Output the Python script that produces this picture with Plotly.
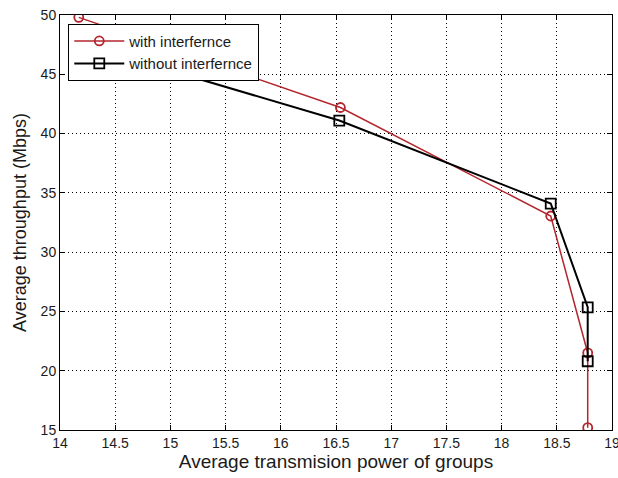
import plotly.graph_objects as go

x_with = [14.17, 16.54, 18.445, 18.78, 18.78]
y_with = [49.8, 42.2, 33.05, 21.5, 15.2]
x_without = [14.17, 16.53, 18.445, 18.78, 18.78]
y_without = [47.6, 41.1, 34.1, 25.35, 20.8]
x_ticks = [14, 14.5, 15, 15.5, 16, 16.5, 17, 17.5, 18, 18.5, 19]
y_ticks = [15, 20, 25, 30, 35, 40, 45, 50]

RED = "#b3262d"
FONT = "Liberation Sans, Arial, sans-serif"
TXT = "#1a1a1a"

fig = go.Figure()
fig.add_trace(go.Scatter(
    x=x_with, y=y_with, mode="lines+markers", name="with interfernce",
    line=dict(color=RED, width=1.5),
    marker=dict(symbol="circle-open", size=9, color=RED, line=dict(width=1.8, color=RED)),
))
fig.add_trace(go.Scatter(
    x=x_without, y=y_without, mode="lines+markers", name="without interfernce",
    line=dict(color="black", width=2),
    marker=dict(symbol="square-open", size=10, color="black", line=dict(width=1.8, color="black")),
))

axis_common = dict(
    showline=True, linecolor="black", linewidth=1, mirror="ticks",
    ticks="inside", ticklen=5, tickcolor="black", tickwidth=1,
    showgrid=True, gridcolor="black", gridwidth=1, griddash="1px,3px",
    zeroline=False, tickfont=dict(family=FONT, size=14, color=TXT),
    ticklabeloverflow="allow", automargin=False,
)

fig.update_xaxes(range=[14, 19], tickvals=x_ticks,
                 ticktext=[f"{v:g}" for v in x_ticks],
                 title_text="Average transmision power of groups", title_standoff=4,
                 title_font=dict(family=FONT, size=19, color=TXT),
                 **axis_common)
fig.update_yaxes(range=[15, 50], tickvals=y_ticks,
                 ticktext=[f"{v:g}" for v in y_ticks],
                 title_text="Average throughput (Mbps)", title_standoff=9,
                 title_font=dict(family=FONT, size=18, color=TXT),
                 **axis_common)

fig.update_layout(
    width=618, height=478,
    margin=dict(l=60, r=6, t=15, b=48),
    plot_bgcolor="white", paper_bgcolor="white",
    font=dict(family=FONT, size=14, color=TXT),
    legend=dict(
        x=0.015, y=0.979, xanchor="left", yanchor="top",
        bgcolor="white", bordercolor="black", borderwidth=1,
        font=dict(family=FONT, size=15, color=TXT),
        tracegroupgap=0, itemwidth=50,
    ),
)

fig.write_html("out.html")
